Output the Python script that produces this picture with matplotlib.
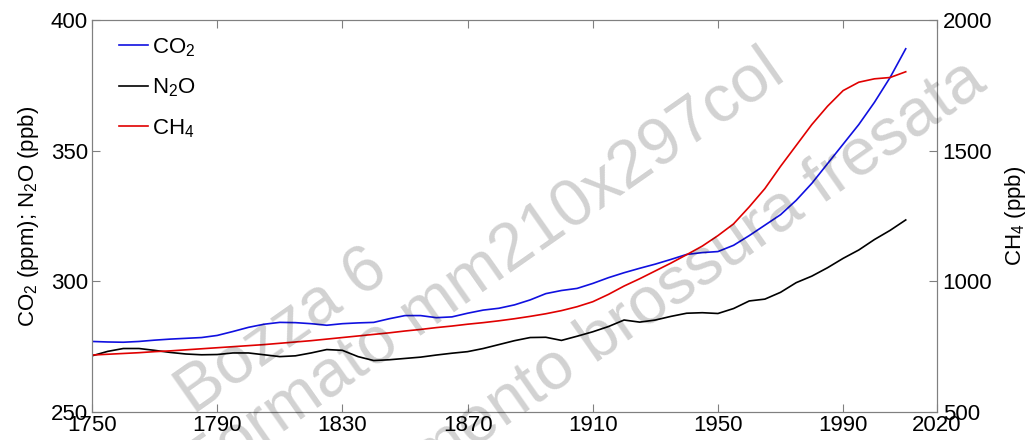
import matplotlib
matplotlib.use("Agg")
import matplotlib.pyplot as plt

plt.rcParams['font.family'] = ['Liberation Sans', 'DejaVu Sans']

# data
years = [1750, 1755, 1760, 1765, 1770, 1775, 1780, 1785, 1790, 1795,
         1800, 1805, 1810, 1815, 1820, 1825, 1830, 1835, 1840, 1845,
         1850, 1855, 1860, 1865, 1870, 1875, 1880, 1885, 1890, 1895,
         1900, 1905, 1910, 1915, 1920, 1925, 1930, 1935, 1940, 1945,
         1950, 1955, 1960, 1965, 1970, 1975, 1980, 1985, 1990, 1995,
         2000, 2005, 2010]

co2 = [277.0, 276.8, 276.7, 277.0, 277.5, 277.9, 278.2, 278.5, 279.3, 280.8,
       282.4, 283.6, 284.3, 284.2, 283.8, 283.2, 283.8, 284.1, 284.3, 285.7,
       286.9, 286.9, 286.1, 286.4, 287.8, 289.0, 289.7, 291.0, 292.9, 295.3,
       296.5, 297.3, 299.2, 301.4, 303.3, 305.0, 306.6, 308.4, 310.3, 311.0,
       311.4, 313.8, 317.5, 321.5, 325.5, 331.0, 337.5, 345.0, 352.5, 360.0,
       368.5, 378.0, 389.0]

n2o = [271.5, 273.2, 274.3, 274.3, 273.6, 272.8, 272.2, 271.9, 272.0, 272.6,
       272.6, 271.9, 271.2, 271.5, 272.6, 273.9, 273.6, 271.2, 269.7, 270.0,
       270.5, 271.0, 271.8, 272.5, 273.1, 274.3, 275.8, 277.3, 278.5, 278.6,
       277.4, 279.0, 280.7, 282.7, 285.2, 284.4, 285.2, 286.6, 287.8, 288.0,
       287.7, 289.6, 292.5, 293.2, 295.8, 299.5, 302.0, 305.2, 308.8, 312.0,
       316.0, 319.5, 323.5]

ch4 = [718, 721, 724, 727, 731, 734, 738, 742, 746, 750,
       754, 758, 763, 768, 773, 779, 785, 791, 797, 803,
       810, 816, 823, 829, 836, 842, 849, 857, 866, 876,
       888, 903, 922, 950, 982, 1010, 1040, 1070, 1102, 1135,
       1175, 1220, 1285, 1355, 1440, 1520, 1600, 1670, 1730, 1762,
       1775, 1780, 1802]

xticks = [1750, 1790, 1830, 1870, 1910, 1950, 1990, 2020]
watermark = ["Bozza 6", "Formato mm210x297col", "Allestimento brossura fresata"]

fs = 16
spine_col = '#808080'

fig = plt.figure(figsize=(10.28, 4.4), dpi=100)
ax = fig.add_axes([0.0895, 0.0636, 0.822, 0.8909])
ax2 = ax.twinx()

l_co2, = ax.plot(years, co2, color='#1010e0', lw=1.2)
l_n2o, = ax.plot(years, n2o, color='black', lw=1.2)
l_ch4, = ax2.plot(years, ch4, color='#e00000', lw=1.2)

ax.set_xlim(1750, 2020)
ax.set_ylim(250, 400)
ax2.set_ylim(500, 2000)
ax.set_xticks(xticks)
ax.set_yticks([250, 300, 350, 400])
ax2.set_yticks([500, 1000, 1500, 2000])

ax.tick_params(axis='x', direction='in', top=True, length=6, width=0.8,
               color=spine_col, labelsize=fs, pad=2)
ax.tick_params(axis='y', direction='in', length=6, width=0.8,
               color=spine_col, labelsize=fs, pad=3)
ax2.tick_params(axis='y', direction='in', length=6, width=0.8,
                color=spine_col, labelsize=fs, pad=4)
for a in (ax, ax2):
    for s in a.spines.values():
        s.set_color(spine_col)
        s.set_linewidth(0.8)

ax.set_ylabel(r'$\mathregular{CO_2}$ (ppm); $\mathregular{N_2O}$ (ppb)', fontsize=fs, labelpad=7)
ax2.set_ylabel(r'$\mathregular{CH_4}$ (ppb)', fontsize=fs, labelpad=8)

leg = ax.legend([l_co2, l_n2o, l_ch4],
                [r'$\mathregular{CO_2}$', r'$\mathregular{N_2O}$', r'$\mathregular{CH_4}$'],
                loc='upper left', bbox_to_anchor=(0.011, 1.004), frameon=False,
                fontsize=fs, handlelength=1.3, handletextpad=0.2, labelspacing=0.8,
                borderaxespad=0.4)

# watermark
wm_pos = [(0.275, 0.245), (0.47, 0.385), (0.608, 0.27)]
for txt, (wx, wy) in zip(watermark, wm_pos):
    fig.text(wx, wy, txt, fontsize=48, color='black', alpha=0.18, rotation=35,
             rotation_mode='anchor', ha='center', va='center', zorder=10)

fig.savefig('out.png', dpi=100)
